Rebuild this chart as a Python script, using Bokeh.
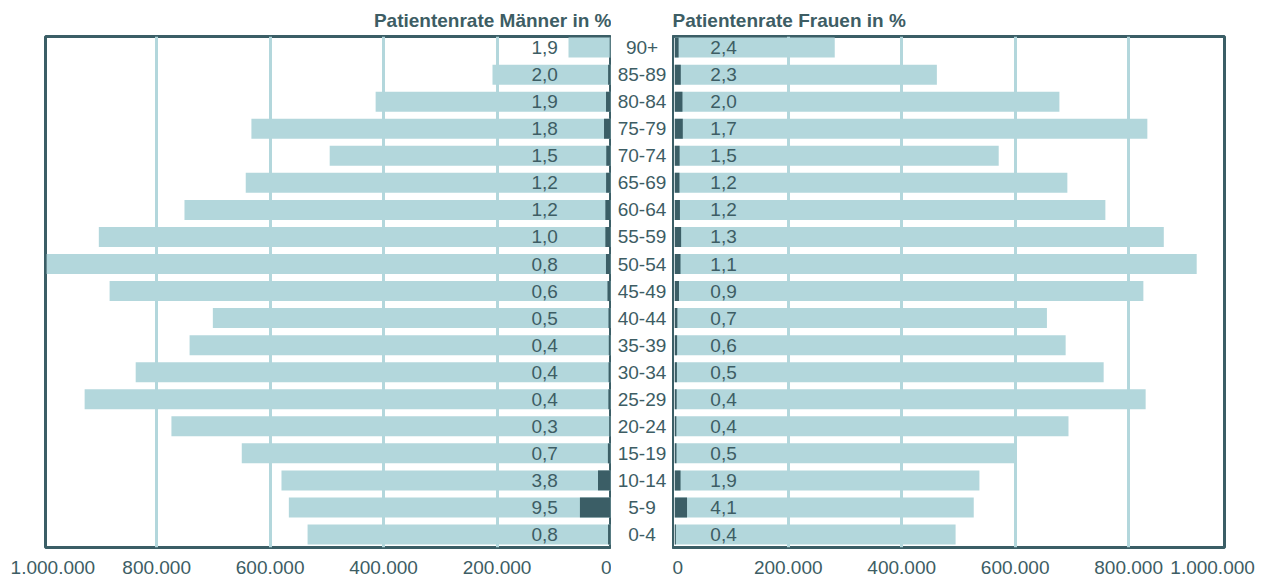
from bokeh.plotting import figure
from bokeh.layouts import row
from bokeh.models import Range1d, FixedTicker, ColumnDataSource
from bokeh.embed import file_html
from bokeh.resources import INLINE
from bokeh.core.properties import value

# ---------------- data (bottom -> top) ----------------
ages = ["0-4", "5-9", "10-14", "15-19", "20-24", "25-29", "30-34", "35-39", "40-44",
        "45-49", "50-54", "55-59", "60-64", "65-69", "70-74", "75-79", "80-84", "85-89", "90+"]
men_pop = [534000, 567000, 580000, 650000, 774000, 927000, 837000, 742000, 701000,
           883000, 994000, 902000, 751000, 643000, 495000, 633000, 414000, 208000, 74000]
men_rate = [0.8, 9.5, 3.8, 0.7, 0.3, 0.4, 0.4, 0.4, 0.5,
            0.6, 0.8, 1.0, 1.2, 1.2, 1.5, 1.8, 1.9, 2.0, 1.9]
women_pop = [495000, 527000, 537000, 601000, 694000, 830000, 756000, 689000, 656000,
             826000, 920000, 862000, 759000, 692000, 571000, 833000, 678000, 462000, 282000]
women_rate = [0.4, 4.1, 1.9, 0.5, 0.4, 0.4, 0.5, 0.6, 0.7,
              0.9, 1.1, 1.3, 1.2, 1.2, 1.5, 1.7, 2.0, 2.3, 2.4]
x_ticks = [0, 200000, 400000, 600000, 800000, 1000000]
x_tick_labels = ["0", "200.000", "400.000", "600.000", "800.000", "1.000.000"]
title_men = "Patientenrate Männer in %"
title_women = "Patientenrate Frauen in %"

# ---------------- style ----------------
LIGHT = "#b3d7dc"
DARK = "#3b5e66"
TEXT = "#3d5d64"
FONT = "Liberation Sans"
FS = "19px"
TOP, BOTTOM, FH = 36, 30, 511
Y_RANGE = (-0.48, 18.41)
BAR_H = 0.74

idx = list(range(len(ages)))


def fmt(r):
    return f"{r:.1f}".replace(".", ",")


def make_side(pop, rate, x_range, frame_w, left_b, right_b, title, align, label_x, edge_pos):
    src = ColumnDataSource(dict(
        y=idx, pop=pop,
        pat=[p * r / 100.0 for p, r in zip(pop, rate)],
        lab=[fmt(r) for r in rate],
        lx=[label_x] * len(idx),
    ))
    p = figure(frame_width=frame_w, frame_height=FH, x_range=x_range, y_range=Range1d(*Y_RANGE),
               output_backend="svg", toolbar_location=None, y_axis_location=None,
               min_border_left=left_b, min_border_right=right_b,
               min_border_top=TOP, min_border_bottom=BOTTOM)
    p.hbar(y="y", left=0, right="pop", height=BAR_H, source=src, fill_color=LIGHT, line_color=None)
    p.hbar(y="y", left=0, right="pat", height=BAR_H, source=src, fill_color=DARK, line_color=None)
    p.text(x="lx", y="y", text="lab", source=src, text_align="center", text_baseline="middle",
           text_font=value(FONT), text_font_size=FS, text_color=TEXT)
    p.ygrid.visible = False
    p.xgrid.ticker = FixedTicker(ticks=x_ticks[1:-1])
    p.xgrid.grid_line_color = LIGHT
    p.xgrid.grid_line_width = 3
    p.outline_line_color = DARK
    p.outline_line_width = 3
    p.outline_line_alpha = 1
    # the outermost tick label is pulled inwards so it fits on the page (as in the original)
    shown = x_ticks[:-1] + [edge_pos]
    ax = p.xaxis[0]
    ax.ticker = FixedTicker(ticks=shown)
    ax.major_label_overrides = {t: l for t, l in zip(shown, x_tick_labels)}
    ax.axis_line_color = None
    ax.major_tick_line_color = None
    ax.minor_tick_line_color = None
    ax.major_label_text_font = FONT
    ax.major_label_text_font_size = FS
    ax.major_label_text_color = TEXT
    ax.major_label_standoff = 7
    p.title.text = title
    p.title.align = align
    p.title.text_font = FONT
    p.title.text_font_size = FS
    p.title.text_font_style = "bold"
    p.title.text_color = TEXT
    p.title.standoff = 12
    p.background_fill_color = "white"
    p.border_fill_color = "white"
    return p


left = make_side(men_pop, men_rate, Range1d(996000, -1800), 566, 45, 0,
                 title_men, "right", 116000, 983000)
right = make_side(women_pop, women_rate, Range1d(-4000, 969000), 552, 0, 43,
                  title_women, "left", 86000, 948000)

# middle column with age group labels
mid = figure(frame_width=61, frame_height=FH, x_range=Range1d(0, 1), y_range=Range1d(*Y_RANGE),
             output_backend="svg", toolbar_location=None, x_axis_location=None, y_axis_location=None,
             min_border_left=0, min_border_right=0, min_border_top=TOP, min_border_bottom=BOTTOM)
mid.outline_line_color = None
mid.xgrid.visible = False
mid.ygrid.visible = False
mid.text(x=[0.5] * len(ages), y=idx, text=ages, text_align="center", text_baseline="middle",
         text_font=value(FONT), text_font_size=FS, text_color=TEXT)

layout = row(left, mid, right, spacing=0)
open("out.html", "w").write(file_html(layout, INLINE))
